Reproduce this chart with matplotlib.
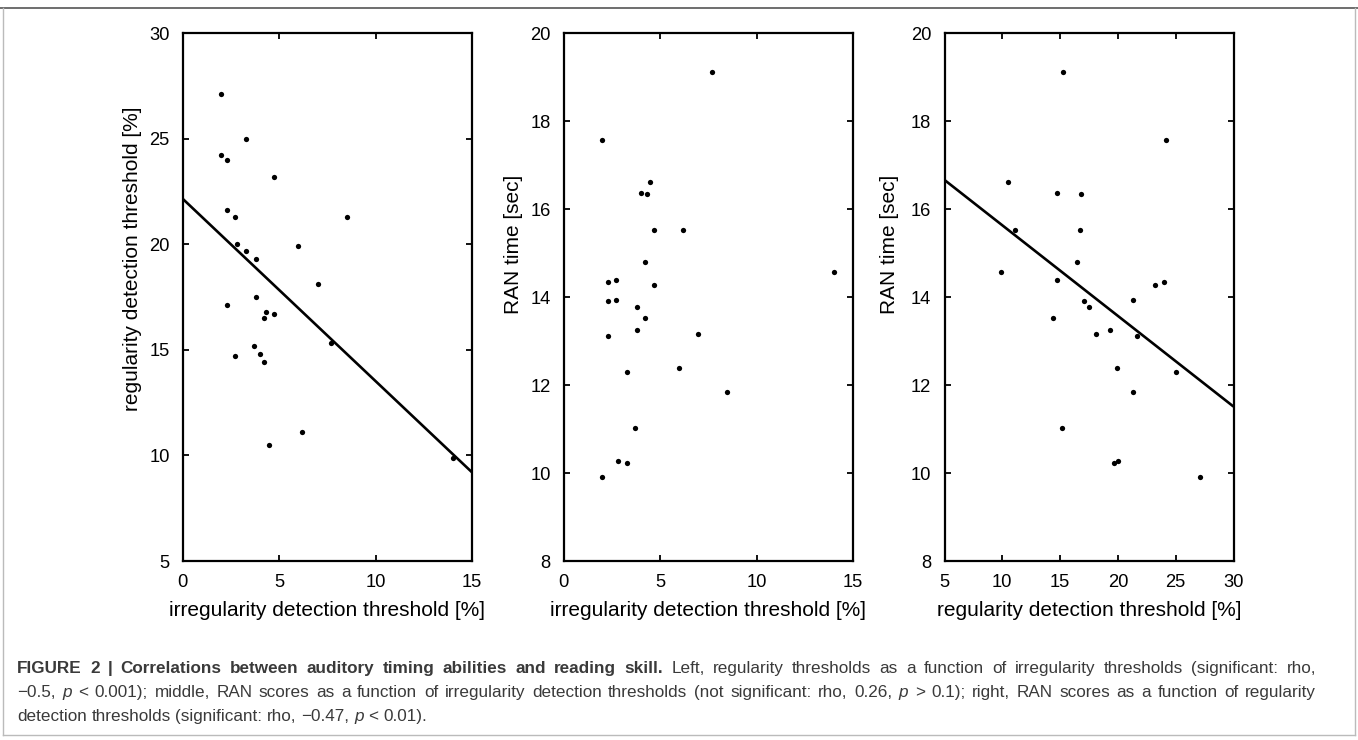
import matplotlib
matplotlib.use("Agg")
import matplotlib.pyplot as plt
from matplotlib.lines import Line2D
from matplotlib.transforms import IdentityTransform
import numpy as np

# ---------------- data ----------------
# Panel 1: irregularity threshold (x) vs regularity threshold (y)
irr1 = [2.0, 3.3, 2.0, 2.3, 4.72, 2.3, 2.7, 8.5, 2.8, 3.3, 3.8, 6.0, 7.0, 3.8, 2.3,
        4.3, 4.2, 4.72, 7.7, 3.7, 2.7, 4.0, 4.2, 6.2, 4.5, 14.0]
reg1 = [27.1, 25.0, 24.2, 24.0, 23.2, 21.6, 21.3, 21.3, 20.0, 19.7, 19.3, 19.9, 18.1, 17.5, 17.1,
        16.8, 16.5, 16.7, 15.3, 15.2, 14.7, 14.8, 14.4, 11.1, 10.5, 9.9]
fit1_x = [0, 15]
fit1_y = [22.15, 9.2]

# Panel 2: irregularity threshold (x) vs RAN time (y)
irr2 = [7.69, 1.99, 4.49, 3.99, 4.30, 4.70, 6.20, 4.2, 14.0, 2.3, 2.7, 4.7, 2.3, 2.7, 3.8, 4.2,
        2.3, 3.8, 6.98, 3.28, 6.0, 8.48, 3.70, 2.8, 3.28, 1.99]
ran2 = [19.11, 17.57, 16.62, 16.36, 16.33, 15.52, 15.52, 14.8, 14.57, 14.35, 14.39, 14.27, 13.91, 13.93, 13.78, 13.53,
        13.12, 13.24, 13.16, 12.30, 12.38, 11.83, 11.02, 10.28, 10.23, 9.91]

# Panel 3: regularity threshold (x) vs RAN time (y)
reg3 = [15.28, 24.19, 10.49, 14.76, 16.81, 11.10, 16.69, 16.46, 9.89, 14.71, 24.01, 23.21, 21.28, 17.1, 17.5, 14.4,
        18.08, 19.29, 21.63, 19.95, 25.0, 21.28, 15.13, 19.7, 20.05, 27.1]
ran3 = [19.11, 17.57, 16.62, 16.36, 16.33, 15.52, 15.52, 14.8, 14.57, 14.39, 14.35, 14.27, 13.93, 13.91, 13.78, 13.53,
        13.16, 13.24, 13.12, 12.38, 12.30, 11.83, 11.02, 10.23, 10.28, 9.91]
fit3_x = [5, 30]
fit3_y = [16.66, 11.51]

xticks1 = [0, 5, 10, 15]
yticks1 = [5, 10, 15, 20, 25, 30]
yticks2 = [8, 10, 12, 14, 16, 18, 20]
xticks3 = [5, 10, 15, 20, 25, 30]

xlabel_irr = "irregularity detection threshold [%]"
xlabel_reg = "regularity detection threshold [%]"
ylabel_reg = "regularity detection threshold [%]"
ylabel_ran = "RAN time [sec]"

# ---------------- figure ----------------
plt.rcParams['font.family'] = ['Liberation Sans', 'DejaVu Sans']
W, H = 1358, 740
fig = plt.figure(figsize=(W / 100, H / 100), dpi=100)

def px_axes(left, top, right, bottom):
    return fig.add_axes([left / W, 1 - bottom / H, (right - left) / W, (bottom - top) / H])

ax1 = px_axes(182.7, 33, 472, 561)
ax2 = px_axes(563.7, 33, 853, 561)
ax3 = px_axes(944.5, 33, 1233.5, 561)

FS = 13.2
LFS = 15.0
for ax in (ax1, ax2, ax3):
    for s in ax.spines.values():
        s.set_linewidth(1.6)
        s.set_color('black')
    ax.tick_params(direction='in', length=4, width=1.3, top=True, right=True,
                   labelsize=FS, pad=9.5, colors='black')

# Panel 1
ax1.plot(irr1, reg1, 'o', color='black', markersize=3.8, markeredgewidth=0)
ax1.plot(fit1_x, fit1_y, '-', color='black', linewidth=1.9, solid_capstyle='butt')
ax1.set_xlim(0, 15); ax1.set_ylim(5, 30)
ax1.set_xticks(xticks1); ax1.set_yticks(yticks1)
ax1.set_xlabel(xlabel_irr, fontsize=LFS, labelpad=7)
ax1.set_ylabel(ylabel_reg, fontsize=LFS)
ax1.yaxis.set_label_coords(-0.142, 0.573)

# Panel 2
ax2.plot(irr2, ran2, 'o', color='black', markersize=3.8, markeredgewidth=0)
ax2.set_xlim(0, 15); ax2.set_ylim(8, 20)
ax2.set_xticks(xticks1); ax2.set_yticks(yticks2)
ax2.set_xlabel(xlabel_irr, fontsize=LFS, labelpad=7)
ax2.set_ylabel(ylabel_ran, fontsize=LFS)
ax2.yaxis.set_label_coords(-0.140, 0.60)

# Panel 3
ax3.plot(reg3, ran3, 'o', color='black', markersize=3.8, markeredgewidth=0)
ax3.plot(fit3_x, fit3_y, '-', color='black', linewidth=1.9, solid_capstyle='butt')
ax3.set_xlim(5, 30); ax3.set_ylim(8, 20)
ax3.set_xticks(xticks3); ax3.set_yticks(yticks2)
ax3.set_xlabel(xlabel_reg, fontsize=LFS, labelpad=7)
ax3.set_ylabel(ylabel_ran, fontsize=LFS)
ax3.yaxis.set_label_coords(-0.158, 0.60)

# Frame around the whole figure
def pxline(xs, ys, color, lw):
    fig.add_artist(Line2D([x / W for x in xs], [1 - y / H for y in ys],
                          transform=fig.transFigure, color=color, linewidth=lw))

pxline([0, W], [8, 8], '#555555', 1.2)
pxline([3, 3], [8, 735], '#bbbbbb', 1.0)
pxline([1355, 1355], [8, 735], '#bbbbbb', 1.0)
pxline([3, 1355], [735, 735], '#bbbbbb', 1.0)

# Caption built from runs of differently styled text (justified lines)
CAP_FS = 12.3
cap_family = ['Liberation Sans', 'DejaVu Sans']
cap_color = '#3a3a3a'
lines = [
    [("FIGURE 2 | Correlations between auditory timing abilities and reading skill.", 'bold', 'normal'),
     ("Left, regularity thresholds as a function of irregularity thresholds (significant: rho,", 'normal', 'normal')],
    [("\u22120.5,", 'normal', 'normal'), ("p", 'normal', 'italic'),
     ("< 0.001); middle, RAN scores as a function of irregularity detection thresholds (not significant: rho, 0.26,", 'normal', 'normal'),
     ("p", 'normal', 'italic'),
     ("> 0.1); right, RAN scores as a function of regularity", 'normal', 'normal')],
    [("detection thresholds (significant: rho, \u22120.47,", 'normal', 'normal'), ("p", 'normal', 'italic'),
     ("< 0.01).", 'normal', 'normal')],
]
justify = [True, True, False]
line_y = [673, 697, 721]
X0, X1 = 17, 1316
renderer = fig.canvas.get_renderer()

def measure(s, wt, st):
    t = fig.text(0, 0, s, fontsize=CAP_FS, fontweight=wt, fontstyle=st, family=cap_family)
    w = t.get_window_extent(renderer).width
    t.remove()
    return w

natural_space = measure("a a", 'normal', 'normal') - measure("aa", 'normal', 'normal')

for runs, yy, just in zip(lines, line_y, justify):
    words = []
    for txt, wt, st in runs:
        for w in txt.split(' '):
            if w:
                words.append((w, wt, st))
    arts = []
    for w, wt, st in words:
        t = fig.text(0, H - yy, w, transform=IdentityTransform(), fontsize=CAP_FS,
                     fontweight=wt, fontstyle=st, family=cap_family, color=cap_color,
                     va='baseline', ha='left')
        arts.append((t, t.get_window_extent(renderer).width))
    total = sum(wd for _, wd in arts)
    gap = (X1 - X0 - total) / (len(arts) - 1) if just else natural_space
    x = X0
    for t, wd in arts:
        t.set_x(x)
        x += wd + gap

fig.savefig("out.png", dpi=100)
